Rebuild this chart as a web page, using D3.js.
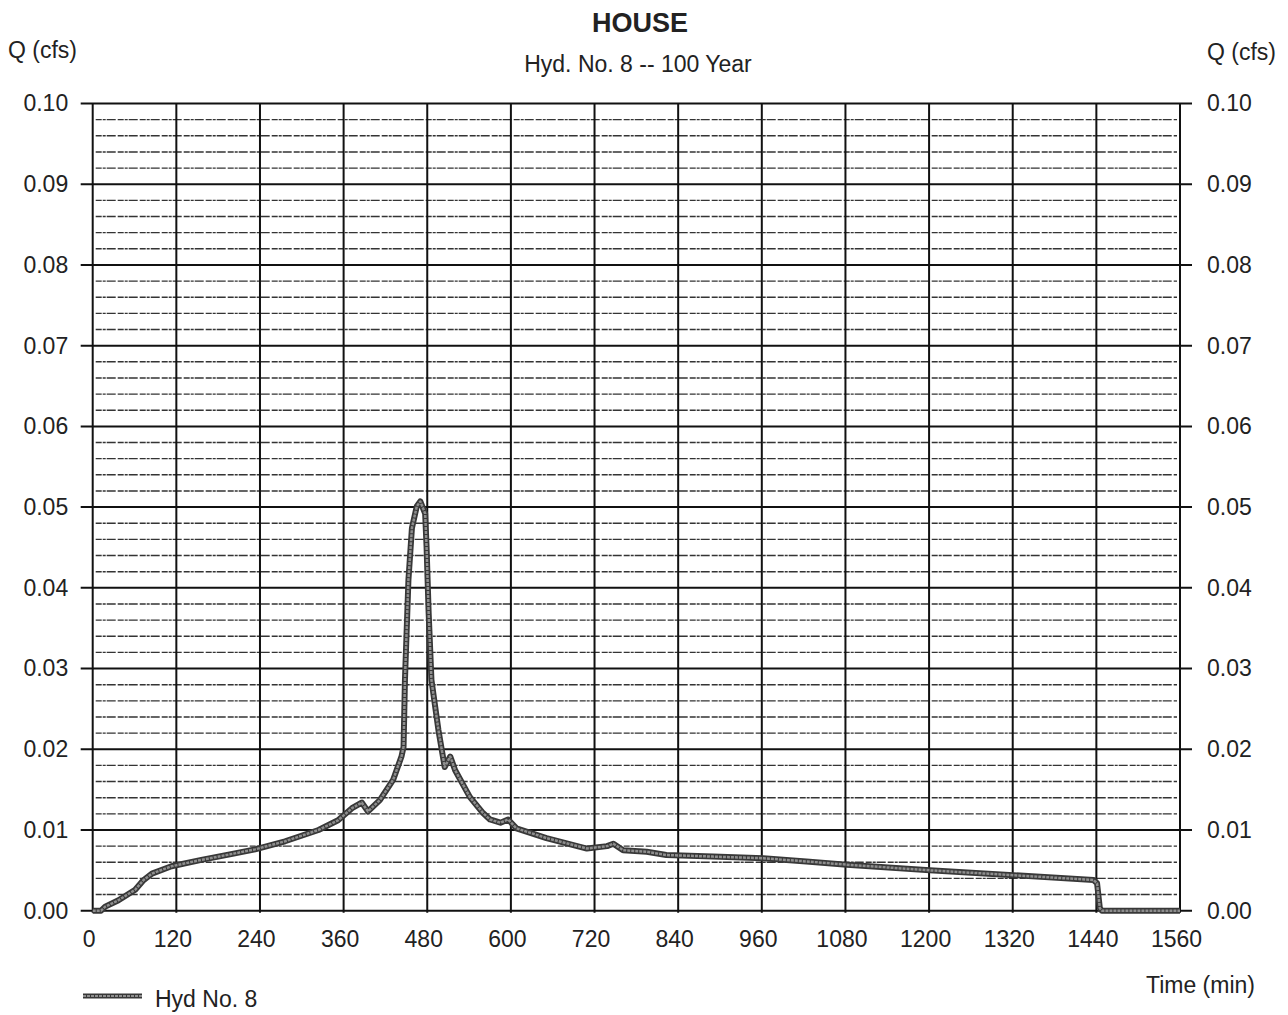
<!DOCTYPE html>
<html>
<head>
<meta charset="utf-8">
<script src="https://cdn.jsdelivr.net/npm/d3@7"></script>
<style>
  html, body { margin: 0; padding: 0; background: #fff; }
  svg { display: block; font-family: "Liberation Sans", Arial, sans-serif; }
</style>
</head>
<body>
<svg id="chart" width="1288" height="1015"></svg>
<script>
// ---- data ----
const title = "HOUSE";
const subtitle = "Hyd. No. 8 -- 100 Year";
const seriesName = "Hyd No. 8";
const xTicks = [0, 120, 240, 360, 480, 600, 720, 840, 960, 1080, 1200, 1320, 1440, 1560];
const yTicks = [0.00, 0.01, 0.02, 0.03, 0.04, 0.05, 0.06, 0.07, 0.08, 0.09, 0.10];
const yMinorTicks = d3.range(0, 50).map(i => i * 0.002).filter((v, i) => i % 5 !== 0);
const timeMin = [0, 12, 18, 37, 61, 73, 85, 113, 156, 204, 233, 276, 324, 352, 372, 386, 395, 412, 431, 443, 446, 448, 453, 458, 465, 470, 477, 479, 482, 486, 496, 505, 513, 520, 541, 560, 570, 585, 596, 608, 651, 709, 738, 747, 761, 795, 823, 890, 962, 1024, 1082, 1201, 1321, 1436, 1441, 1445, 1448, 1560];
const flowCfs = [0, 0, 0.0005, 0.0013, 0.0026, 0.0038, 0.0046, 0.0055, 0.0063, 0.0071, 0.0076, 0.0086, 0.0100, 0.0112, 0.0127, 0.0134, 0.0123, 0.0137, 0.0162, 0.0191, 0.0203, 0.0286, 0.0410, 0.0474, 0.0501, 0.0507, 0.0492, 0.0451, 0.0369, 0.0286, 0.0224, 0.0178, 0.0191, 0.0174, 0.0141, 0.0121, 0.0113, 0.0109, 0.0113, 0.0102, 0.0090, 0.0077, 0.0080, 0.0083, 0.0075, 0.0073, 0.0069, 0.0067, 0.0065, 0.0061, 0.0057, 0.0050, 0.0044, 0.0038, 0.0034, 0.0003, 0, 0];

// ---- layout ----
const L = 92.7, R = 1180, T = 103.5, B = 910.7;
const fs = 23;
const svg = d3.select("#chart");
const x = d3.scaleLinear().domain([0, 1560]).range([L, R]);
const y = d3.scaleLinear().domain([0, 0.10]).range([B, T]);

// minor horizontal lines
svg.append("g").selectAll("line").data(yMinorTicks).join("line")
  .attr("x1", L + 3).attr("x2", R - 3)
  .attr("y1", d => y(d)).attr("y2", d => y(d))
  .attr("stroke", "#111").attr("stroke-width", 1.4)
  .attr("stroke-dasharray", "6 1 3 1 9 2")
  .attr("opacity", 0.85);

// major horizontal lines (extend as ticks)
svg.append("g").selectAll("line").data(yTicks).join("line")
  .attr("x1", L - 12).attr("x2", R + 12)
  .attr("y1", d => y(d)).attr("y2", d => y(d))
  .attr("stroke", "#111").attr("stroke-width", 2);

// vertical lines
svg.append("g").selectAll("line").data(xTicks).join("line")
  .attr("x1", d => x(d)).attr("x2", d => x(d))
  .attr("y1", T).attr("y2", B + 2)
  .attr("stroke", "#111").attr("stroke-width", 2);

// series
const pts = timeMin.map((t, i) => [t, flowCfs[i]]);
const line = d3.line().x(d => x(d[0])).y(d => y(d[1]));
svg.append("path").datum(pts).attr("d", line)
  .attr("fill", "none").attr("stroke", "#383838").attr("stroke-width", 6)
  .attr("stroke-linejoin", "round");
svg.append("path").datum(pts).attr("d", line)
  .attr("fill", "none").attr("stroke", "#8e8e8e").attr("stroke-width", 2.5)
  .attr("stroke-dasharray", "3 1")
  .attr("stroke-linejoin", "round");

// axes (labels)
function styleAxis(g) {
  g.select(".domain").remove();
  g.selectAll(".tick line").remove();
  g.selectAll("text").attr("font-size", fs).attr("fill", "#222")
    .attr("font-family", "'Liberation Sans', Arial, sans-serif");
}
svg.append("g").attr("transform", `translate(${L},0)`)
  .call(d3.axisLeft(y).tickValues(yTicks).tickSize(0).tickPadding(24.5).tickFormat(d3.format(".2f")))
  .call(styleAxis);
svg.append("g").attr("transform", `translate(${R},0)`)
  .call(d3.axisRight(y).tickValues(yTicks).tickSize(0).tickPadding(27).tickFormat(d3.format(".2f")))
  .call(styleAxis);
svg.append("g").attr("transform", `translate(-4,${B})`)
  .call(d3.axisBottom(x).tickValues(xTicks).tickSize(0).tickPadding(19.5).tickFormat(d3.format("d")))
  .call(styleAxis);

// titles
svg.append("text").attr("x", 640).attr("y", 31.5).attr("text-anchor", "middle")
  .attr("font-size", 27).attr("font-weight", "bold").attr("fill", "#222").text(title);
svg.append("text").attr("x", 638).attr("y", 71.5).attr("text-anchor", "middle")
  .attr("font-size", fs).attr("fill", "#222").text(subtitle);
svg.append("text").attr("x", 8).attr("y", 58).attr("font-size", fs).attr("fill", "#222").text("Q (cfs)");
svg.append("text").attr("x", 1207).attr("y", 60).attr("font-size", fs).attr("fill", "#222").text("Q (cfs)");
svg.append("text").attr("x", 1255).attr("y", 993).attr("text-anchor", "end")
  .attr("font-size", fs).attr("fill", "#222").text("Time (min)");

// legend
svg.append("line").attr("x1", 83).attr("x2", 142).attr("y1", 996).attr("y2", 996)
  .attr("stroke", "#383838").attr("stroke-width", 5);
svg.append("line").attr("x1", 83).attr("x2", 142).attr("y1", 996).attr("y2", 996)
  .attr("stroke", "#8e8e8e").attr("stroke-width", 2).attr("stroke-dasharray", "3 1");
svg.append("text").attr("x", 155).attr("y", 1006.5).attr("font-size", fs).attr("fill", "#222").text(seriesName);
</script>
</body>
</html>
